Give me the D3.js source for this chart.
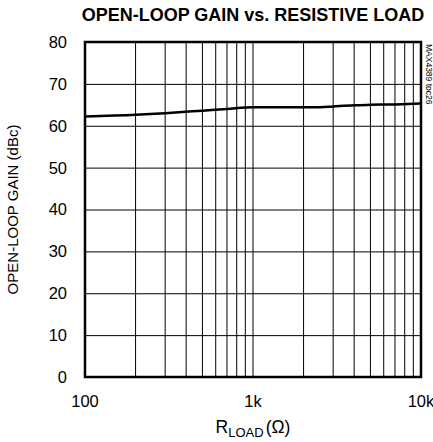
<!DOCTYPE html>
<meta charset="utf-8">
<script src="https://d3js.org/d3.v7.min.js"></script>
<style>
body { margin: 0; background: white; }
text { font-family: "Liberation Sans", Arial, sans-serif; fill: black; }
.grid line { stroke: black; stroke-width: 1; }
.grid path { display: none; }
</style>
<body>
<svg width="433" height="442" id="svg"></svg>
<script>
// values
var loads = [100, 200, 300, 500, 700, 1000, 2000, 2500, 3000, 4000, 5000, 7000, 10000];
var gain  = [62.2, 62.6, 63.0, 63.6, 64.0, 64.4, 64.4, 64.4, 64.6, 64.9, 65.0, 65.1, 65.3];
var yTicks = [0, 10, 20, 30, 40, 50, 60, 70, 80];
var xTicks = [100, 1000, 10000];
var xTickLabels = ["100", "1k", "10k"];

let svg = d3.select("#svg");
let margin = { top: 42, right: 12, bottom: 65, left: 85 };
let width = 433 - margin.left - margin.right;
let height = 442 - margin.top - margin.bottom;

let g = svg.append("g")
    .attr("transform", "translate(" + margin.left + "," + margin.top + ")");

let x = d3.scaleLog().domain([100, 10000]).range([0, width]);
let y = d3.scaleLinear().domain([0, 80]).range([height, 0]);

// minor + major vertical grid
var gridX = [];
[100, 1000].forEach(function(dec) {
    for (var k = 1; k < 10; k++) gridX.push(dec * k);
});

g.append("g")
    .attr("class", "grid")
    .selectAll("line")
    .data(gridX)
    .enter().append("line")
    .attr("x1", function(d) { return x(d); })
    .attr("x2", function(d) { return x(d); })
    .attr("y1", 0)
    .attr("y2", height);

g.append("g")
    .attr("class", "grid")
    .call(d3.axisLeft(y).tickValues(yTicks).tickSize(-width).tickFormat(""));

// tick labels
g.selectAll(".ylab")
    .data(yTicks)
    .enter().append("text")
    .attr("x", -18)
    .attr("y", function(d) { return y(d); })
    .attr("dy", "0.36em")
    .attr("text-anchor", "end")
    .style("font-size", "16.5px")
    .text(function(d) { return d; });

g.selectAll(".xlab")
    .data(xTicks)
    .enter().append("text")
    .attr("x", function(d) { return x(d); })
    .attr("y", height + 30)
    .attr("text-anchor", "middle")
    .style("font-size", "16.5px")
    .text(function(d, i) { return xTickLabels[i]; });

// curve
let line = d3.line()
    .curve(d3.curveMonotoneX)
    .x(function(d, i) { return x(loads[i]); })
    .y(function(d) { return y(d); });

g.append("path")
    .datum(gain)
    .attr("fill", "none")
    .attr("stroke", "black")
    .attr("stroke-width", 2.5)
    .attr("d", line);

// frame
g.append("rect")
    .attr("width", width)
    .attr("height", height)
    .attr("fill", "none")
    .attr("stroke", "black")
    .attr("stroke-width", 2.5);

// titles
svg.append("text")
    .attr("x", margin.left + width / 2)
    .attr("y", 21)
    .attr("text-anchor", "middle")
    .style("font-size", "18px")
    .style("font-weight", "bold")
    .text("OPEN-LOOP GAIN vs. RESISTIVE LOAD");

let xt = svg.append("text")
    .attr("x", margin.left + width / 2)
    .attr("y", 433)
    .attr("text-anchor", "middle")
    .style("font-size", "17.5px");
xt.append("tspan").text("R");
xt.append("tspan").attr("dy", 4).style("font-size", "13px").text("LOAD");
xt.append("tspan").attr("dy", -4).attr("dx", 2).text("(Ω)");

svg.append("text")
    .attr("transform", "translate(18," + (margin.top + height / 2) + ") rotate(-90)")
    .attr("text-anchor", "middle")
    .style("font-size", "15px")
    .text("OPEN-LOOP GAIN (dBc)");

svg.append("text")
    .attr("transform", "translate(426,44) rotate(90)")
    .attr("text-anchor", "start")
    .style("font-size", "8.5px")
    .text("MAX4389 toc26");
</script>
</body>
